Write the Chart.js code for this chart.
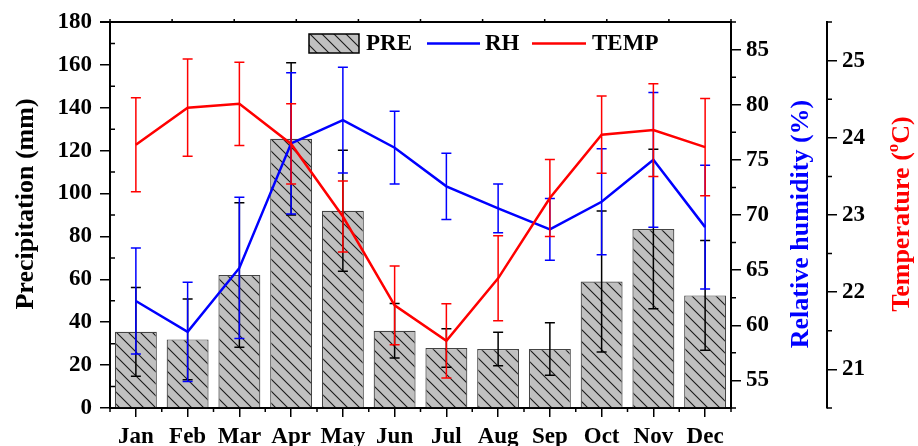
<!DOCTYPE html>
<html>
<head>
<meta charset="utf-8">
<script src="https://cdn.jsdelivr.net/npm/chart.js@4.4.1/dist/chart.umd.min.js"></script>
<style>
  html, body { margin: 0; padding: 0; background: #fff; }
  #wrap { width: 918px; height: 446px; }
</style>
</head>
<body>
<div id="wrap"><canvas id="climChart" width="918" height="446"></canvas></div>
<script>
const months = ["Jan", "Feb", "Mar", "Apr", "May", "Jun", "Jul", "Aug", "Sep", "Oct", "Nov", "Dec"];

// precipitation (mm), bars + sd
const precip = [35.5, 32, 62, 125.5, 92, 36, 28, 27.5, 27.5, 59, 83.5, 52.5];
const precipErr = [20.7, 18.8, 33.7, 35.5, 28.2, 12.7, 9, 7.8, 12.2, 32.9, 37.2, 25.6];

// relative humidity (%)
const humidity = [62.2, 59.4, 65.2, 76.5, 78.6, 76.1, 72.6, 70.6, 68.7, 71.2, 75.0, 68.9];
const humidityErr = [4.8, 4.5, 6.4, 6.4, 4.8, 3.3, 3.0, 2.2, 2.8, 4.8, 6.1, 5.6];

// temperature (C)
const temperature = [23.91, 24.39, 24.44, 23.92, 22.98, 21.83, 21.37, 22.18, 23.22, 24.04, 24.10, 23.88];
const temperatureErr = [0.61, 0.63, 0.54, 0.52, 0.46, 0.51, 0.48, 0.55, 0.5, 0.5, 0.6, 0.63];

const precipTicks = [0, 20, 40, 60, 80, 100, 120, 140, 160, 180];
const humidityTicks = [55, 60, 65, 70, 75, 80, 85];
const tempTicks = [21, 22, 23, 24, 25];

const serif = "'Liberation Serif', 'Times New Roman', serif";

function hatchPattern() {
  const c = document.createElement("canvas");
  c.width = 12; c.height = 12;
  const g = c.getContext("2d");
  g.fillStyle = "#c0c0c0";
  g.fillRect(0, 0, 12, 12);
  g.strokeStyle = "#1a1a1a";
  g.lineWidth = 1.1;
  g.beginPath();
  g.moveTo(-1, -1); g.lineTo(13, 13);
  g.moveTo(-1, 11); g.lineTo(1, 13);
  g.moveTo(11, -1); g.lineTo(13, 1);
  g.stroke();
  return g.createPattern(c, "repeat");
}
const hatch = hatchPattern();

// error bars, drawn right after each dataset
const errorBars = {
  id: "errorBars",
  afterDatasetDraw(chart, args) {
    const ds = chart.data.datasets[args.index];
    if (!ds.errors) return;
    const ctx = chart.ctx;
    const yScale = chart.scales[ds.yAxisID];
    ctx.save();
    ctx.strokeStyle = ds.errorColor;
    ctx.lineWidth = 1.5;
    args.meta.data.forEach((el, i) => {
      const x = el.x;
      const top = yScale.getPixelForValue(ds.data[i] + ds.errors[i]);
      const bot = yScale.getPixelForValue(ds.data[i] - ds.errors[i]);
      ctx.beginPath();
      ctx.moveTo(x, top); ctx.lineTo(x, bot);
      ctx.moveTo(x - 5, top); ctx.lineTo(x + 5, top);
      ctx.moveTo(x - 5, bot); ctx.lineTo(x + 5, bot);
      ctx.stroke();
    });
    ctx.restore();
  }
};

function vText(ctx, text, x, y, color) {
  ctx.save();
  ctx.translate(x, y);
  ctx.rotate(-Math.PI / 2);
  ctx.textAlign = "center";
  ctx.textBaseline = "middle";
  ctx.fillStyle = color;
  ctx.fillText(text, 0, 0);
  ctx.restore();
}

// minor ticks, top frame, axis titles, legend
const decor = {
  id: "decor",
  afterDraw(chart) {
    const { ctx, chartArea: a, scales } = chart;
    ctx.save();
    ctx.strokeStyle = "#000";
    ctx.lineWidth = 1.5;
    ctx.beginPath();
    for (let v = 10; v < 180; v += 20) {
      const y = scales.y.getPixelForValue(v);
      ctx.moveTo(a.left, y); ctx.lineTo(a.left + 5, y);
    }
    for (let v = 52.5; v <= 87.5; v += 5) {
      const y = scales.yRH.getPixelForValue(v);
      ctx.moveTo(a.right, y); ctx.lineTo(a.right + 5, y);
    }
    const tx = scales.yT.left;
    for (let v = 20.5; v <= 25.5; v += 1) {
      const y = scales.yT.getPixelForValue(v);
      ctx.moveTo(tx, y); ctx.lineTo(tx + 5, y);
    }
    for (let i = 0; i <= months.length; i++) {
      const x = a.left + i * a.width / months.length;
      ctx.moveTo(x, a.bottom); ctx.lineTo(x, a.bottom + 4);
    }
    for (let k = 0; k <= 10; k++) {
      const x = a.left + k * a.width / 10;
      ctx.moveTo(x, a.top); ctx.lineTo(x, a.top - 3);
    }
    ctx.stroke();
    ctx.lineWidth = 2;
    ctx.beginPath();
    ctx.moveTo(a.left - 10, a.top); ctx.lineTo(a.right, a.top);
    ctx.stroke();

    // axis titles
    ctx.font = "bold 26px " + serif;
    vText(ctx, "Precipitation (mm)", 26, 204, "#000");
    vText(ctx, "Relative humidity (%)", 801, 224, "#0000ff");

    const p1 = "Temperature (", p3 = "C)";
    const w1 = ctx.measureText(p1).width, w3 = ctx.measureText(p3).width;
    ctx.font = "bold 17px " + serif;
    const w2 = ctx.measureText("o").width;
    const total = w1 + w2 + w3;
    ctx.translate(900, 214);
    ctx.rotate(-Math.PI / 2);
    ctx.fillStyle = "#ff0000";
    ctx.textBaseline = "alphabetic";
    ctx.textAlign = "left";
    ctx.font = "bold 26px " + serif;
    ctx.fillText(p1, -total / 2, 9);
    ctx.fillText(p3, -total / 2 + w1 + w2, 9);
    ctx.font = "bold 17px " + serif;
    ctx.fillText("o", -total / 2 + w1, -2);
    ctx.restore();

    // legend
    ctx.save();
    ctx.font = "bold 23px " + serif;
    ctx.textBaseline = "middle";
    ctx.fillStyle = hatch;
    ctx.fillRect(309, 34, 50, 19);
    ctx.strokeStyle = "#000";
    ctx.lineWidth = 1.5;
    ctx.strokeRect(309, 34, 50, 19);
    ctx.fillStyle = "#000";
    ctx.fillText("PRE", 366, 44);
    ctx.lineWidth = 2.5;
    ctx.strokeStyle = "#0000ff";
    ctx.beginPath(); ctx.moveTo(427, 43.5); ctx.lineTo(480, 43.5); ctx.stroke();
    ctx.fillText("RH", 485, 44);
    ctx.strokeStyle = "#ff0000";
    ctx.beginPath(); ctx.moveTo(532, 43.5); ctx.lineTo(586, 43.5); ctx.stroke();
    ctx.fillText("TEMP", 592, 44);
    ctx.restore();
  }
};

const tickFont = { family: serif, size: 23, weight: "bold" };
const axisGrid = { drawOnChartArea: false, tickLength: 10, color: "#000", lineWidth: 1.5 };
const axisBorder = { color: "#000", width: 2 };

new Chart(document.getElementById("climChart"), {
  type: "bar",
  data: {
    labels: months,
    datasets: [
      {
        label: "PRE",
        data: precip,
        errors: precipErr,
        errorColor: "#000",
        yAxisID: "y",
        backgroundColor: hatch,
        borderColor: "#444",
        borderWidth: 1.2,
        barPercentage: 0.81,
        categoryPercentage: 1,
        order: 3
      },
      {
        type: "line",
        label: "RH",
        data: humidity,
        errors: humidityErr,
        errorColor: "#0000ff",
        yAxisID: "yRH",
        borderColor: "#0000ff",
        borderWidth: 2.5,
        pointRadius: 0,
        tension: 0,
        order: 2
      },
      {
        type: "line",
        label: "TEMP",
        data: temperature,
        errors: temperatureErr,
        errorColor: "#ff0000",
        yAxisID: "yT",
        borderColor: "#ff0000",
        borderWidth: 2.5,
        pointRadius: 0,
        tension: 0,
        order: 1
      }
    ]
  },
  options: {
    responsive: false,
    animation: false,
    devicePixelRatio: 1,
    layout: { padding: { top: 22, left: 0, right: 0, bottom: 0 } },
    plugins: { legend: { display: false }, tooltip: { enabled: false } },
    scales: {
      x: {
        offset: true,
        grid: { offset: false, drawOnChartArea: false, tickLength: 9, color: "#000", lineWidth: 1.5 },
        border: axisBorder,
        ticks: { color: "#000", font: tickFont, padding: 6, maxRotation: 0, autoSkip: false },
        afterFit: s => { s.height = 38; }
      },
      y: {
        position: "left",
        min: 0,
        max: 180,
        afterBuildTicks: s => { s.ticks = precipTicks.map(v => ({ value: v })); },
        grid: axisGrid,
        border: axisBorder,
        ticks: { color: "#000", font: tickFont, padding: 8 },
        afterFit: s => { s.width = 110; }
      },
      yRH: {
        position: "right",
        weight: 0,
        min: 52.5,
        max: 87.5,
        afterBuildTicks: s => { s.ticks = humidityTicks.map(v => ({ value: v })); },
        grid: axisGrid,
        border: axisBorder,
        ticks: { color: "#000", font: tickFont, padding: 5 },
        afterFit: s => { s.width = 96; }
      },
      yT: {
        position: "right",
        weight: 1,
        min: 20.5,
        max: 25.5,
        afterBuildTicks: s => { s.ticks = tempTicks.map(v => ({ value: v })); },
        grid: axisGrid,
        border: axisBorder,
        ticks: { color: "#000", font: tickFont, padding: 5 },
        afterFit: s => { s.width = 91; }
      }
    }
  },
  plugins: [errorBars, decor]
});
</script>
</body>
</html>
